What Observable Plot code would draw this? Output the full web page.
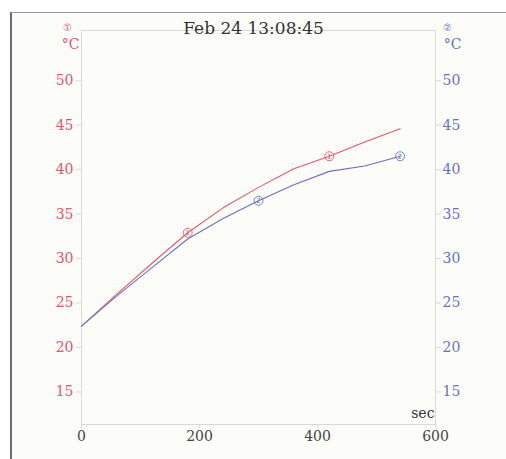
<!DOCTYPE html>
<html>
<head>
<meta charset="utf-8">
<script src="https://cdn.jsdelivr.net/npm/d3@7"></script>
<script src="https://cdn.jsdelivr.net/npm/@observablehq/plot@0.6"></script>
<style>
  html, body { margin: 0; padding: 0; background: #ffffff; }
  #wrap { position: relative; width: 506px; height: 459px; overflow: hidden; }
  #paper { position: absolute; left: 10px; top: 12px; right: -2px; bottom: -2px;
           border-top: 1.5px solid #9a9a9a; border-left: 2px solid #6e6e6e; background: #fcfcf9; }
  #chart { position: absolute; left: 0; top: 0; }
</style>
</head>
<body>
<div id="wrap"><div id="paper"></div><div id="chart"></div></div>
<script>
const title = "Feb 24 13:08:45";
const time = [0, 60, 120, 180, 240, 300, 360, 420, 480, 540];
const ch1 = [22.4, 26.0, 29.5, 32.9, 35.7, 38.0, 40.1, 41.5, 43.1, 44.6];
const ch2 = [22.4, 25.8, 29.0, 32.2, 34.5, 36.5, 38.3, 39.8, 40.4, 41.5];
const ch1MarkIdx = [3, 7];
const ch2MarkIdx = [5, 9];
const yTicks = [15, 20, 25, 30, 35, 40, 45, 50];
const xTicks = [0, 200, 400, 600];
const xLabel = "sec";
const unit = "°C";

const red = "#e2566c";
const blue = "#6a70c0";
const grid = "#d9d9d9";

const s1 = time.map((t, i) => ({t, v: ch1[i]}));
const s2 = time.map((t, i) => ({t, v: ch2[i]}));
const m1 = ch1MarkIdx.map(i => s1[i]);
const m2 = ch2MarkIdx.map(i => s2[i]);

const chart = Plot.plot({
  width: 506,
  height: 459,
  marginLeft: 81,
  marginRight: 71,
  marginTop: 30,
  marginBottom: 35,
  style: {background: "transparent", fontFamily: "DejaVu Serif", fontSize: "14px", overflow: "visible"},
  x: {domain: [0, 600]},
  y: {domain: [11.34, 55.64]},
  marks: [
    Plot.frame({stroke: grid}),
    Plot.axisY(yTicks, {anchor: "left", tickSize: 5, tickPadding: 3, stroke: grid, fill: red, fontSize: 14, label: null}),
    Plot.axisY(yTicks, {anchor: "right", tickSize: 5, tickPadding: 2, stroke: grid, fill: blue, fontSize: 14, label: null}),
    Plot.axisX(xTicks, {anchor: "bottom", tickSize: 4, tickPadding: 3, stroke: grid, fill: "#444", fontSize: 14, label: null}),
    Plot.line(s1, {x: "t", y: "v", stroke: red, strokeWidth: 1.1}),
    Plot.line(s2, {x: "t", y: "v", stroke: blue, strokeWidth: 1.1}),
    Plot.dot(m1, {x: "t", y: "v", r: 4.5, stroke: red, strokeWidth: 0.9, fill: "none"}),
    Plot.dot(m2, {x: "t", y: "v", r: 4.5, stroke: blue, strokeWidth: 0.9, fill: "none"}),
    Plot.text(m1, {x: "t", y: "v", text: () => "1", fill: red, fontSize: 7, fontFamily: "DejaVu Sans"}),
    Plot.text(m2, {x: "t", y: "v", text: () => "2", fill: blue, fontSize: 7, fontFamily: "DejaVu Sans"}),
    Plot.text([title], {frameAnchor: "top", dx: -5, dy: -9, fontSize: 17, fill: "#333", fontFamily: "DejaVu Serif"}),
    Plot.text(["①"], {frameAnchor: "top-left", textAnchor: "middle", dx: -14, dy: -7, fontSize: 10, fill: red, fontFamily: "DejaVu Sans"}),
    Plot.text([unit], {frameAnchor: "top-left", textAnchor: "middle", dx: -11, dy: 9, fontSize: 14, fill: red, fontFamily: "DejaVu Serif"}),
    Plot.text(["②"], {frameAnchor: "top-right", textAnchor: "middle", dx: 12, dy: -7, fontSize: 10, fill: blue, fontFamily: "DejaVu Sans"}),
    Plot.text([unit], {frameAnchor: "top-right", textAnchor: "middle", dx: 17, dy: 9, fontSize: 14, fill: blue, fontFamily: "DejaVu Serif"}),
    Plot.text([xLabel], {frameAnchor: "bottom-right", textAnchor: "end", dx: -1, dy: -7, fontSize: 14, fill: "#333", fontFamily: "DejaVu Serif"})
  ]
});
document.getElementById("chart").appendChild(chart);
</script>
</body>
</html>
